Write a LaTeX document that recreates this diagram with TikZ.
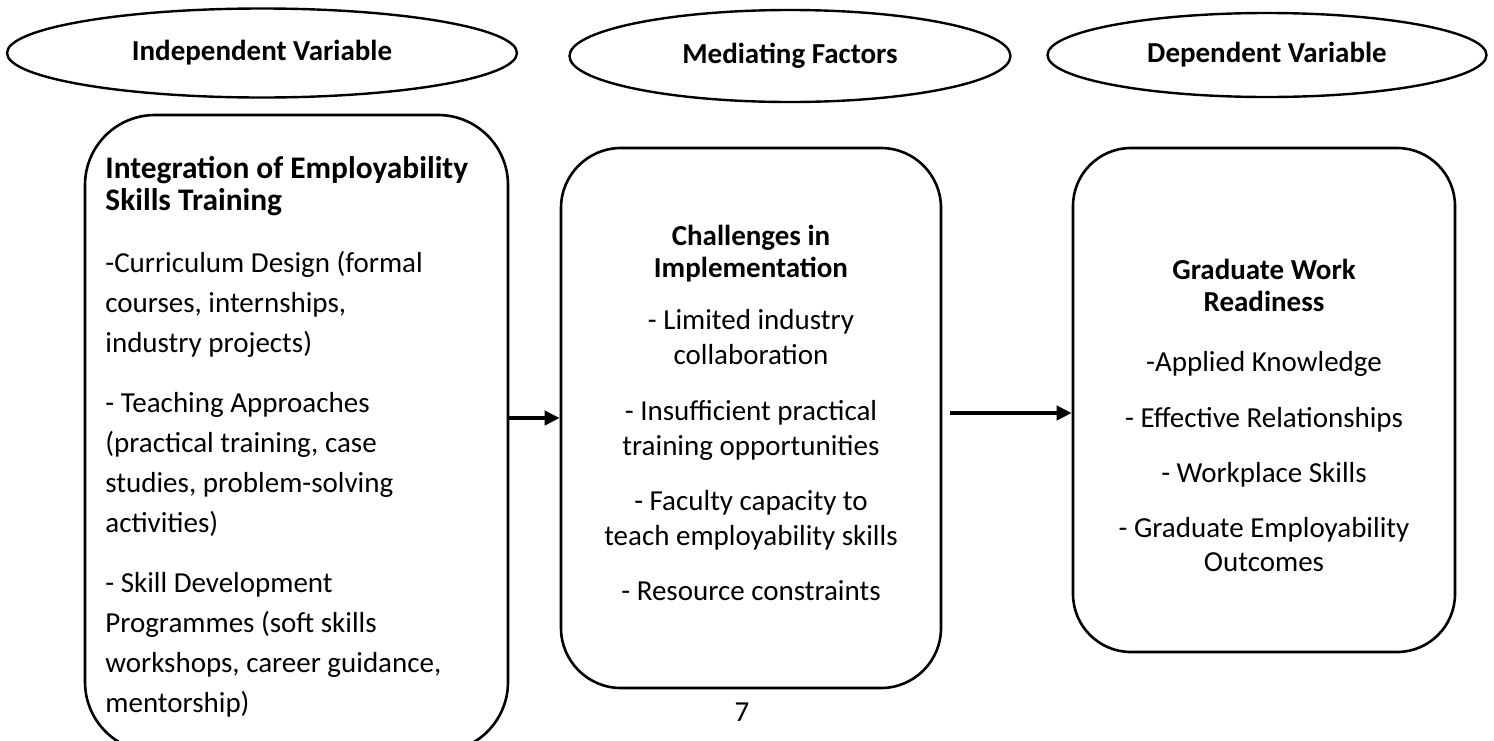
\documentclass[tikz,border=0pt]{standalone}
\usepackage{fontspec}
\setmainfont{Carlito}
\usetikzlibrary{shapes.geometric,arrows.meta}

\begin{document}
\begin{tikzpicture}[x=0.5pt,y=-0.5pt,
    etichetta/.style={draw, ellipse, line width=1.2pt, inner sep=0pt, font=\fontsize{14.5}{17}\selectfont\bfseries},
    riquadro/.style={draw, rectangle, line width=1.3pt, inner sep=0pt},
    testo/.style={inner sep=0pt},
    freccia/.style={-{Triangle[length=7.5pt,width=7pt]}, line width=2pt}]
    \useasboundingbox (0,0) rectangle (1494,740);
    \clip (0,0) rectangle (1494,740);

    % Ellissi delle variabili
    \node[etichetta, minimum width=255pt, minimum height=44.5pt] (iv) at (262,53) {Independent Variable};
    \node[etichetta, minimum width=220.5pt, minimum height=46pt] (mf) at (790,56) {Mediating Factors};
    \node[etichetta, minimum width=219.5pt, minimum height=42pt] (dv) at (1267,55) {Dependent Variable};

    % Riquadri arrotondati
    \node[riquadro, rounded corners=35pt, minimum width=211.5pt, minimum height=318.5pt] (ivbox) at (296.5,433.5) {};
    \node[riquadro, rounded corners=30pt, minimum width=190pt, minimum height=270pt] (mfbox) at (751,418) {};
    \node[riquadro, rounded corners=29pt, minimum width=191pt, minimum height=252pt] (dvbox) at (1264,400) {};

    % Testo dei riquadri
    \node[testo, anchor=north west, align=left, font=\fontsize{14.5}{20}\selectfont] (ivtxt) at (105,156) {%
        {\fontsize{15.7}{20}\selectfont\bfseries Integration of Employability}\\[-4pt]
        {\fontsize{15.7}{20}\selectfont\bfseries Skills Training}\\[11pt]
        -Curriculum Design (formal\\
        courses, internships,\\
        industry projects)\\[10pt]
        - Teaching Approaches\\
        (practical training, case\\
        studies, problem-solving\\
        activities)\\[10pt]
        - Skill Development\\
        Programmes (soft skills\\
        workshops, career guidance,\\
        mentorship)};
    \node[testo, anchor=north, align=center, font=\fontsize{14.5}{17.5}\selectfont] (mftxt) at (751,225) {%
        \textbf{Challenges in}\\[-1.5pt]
        \textbf{Implementation}\\[8.5pt]
        - Limited industry\\
        collaboration\\[10.5pt]
        - Insufficient practical\\
        training opportunities\\[10pt]
        - Faculty capacity to\\
        teach employability skills\\[10pt]
        - Resource constraints};
    \node[testo, anchor=north, align=center, font=\fontsize{14.5}{17}\selectfont] (dvtxt) at (1264,259) {%
        \textbf{Graduate Work}\\[-1pt]
        \textbf{Readiness}\\[13pt]
        -Applied Knowledge\\[11pt]
        - Effective Relationships\\[10.5pt]
        - Workplace Skills\\[10.5pt]
        - Graduate Employability\\
        Outcomes};

    % Frecce
    \draw[freccia] (ivbox.east |- mfbox.west) -- (mfbox.west);
    \draw[freccia, shorten <=4pt] ([yshift=2.5pt]mfbox.east) -- ([yshift=2.5pt]mfbox.east -| dvbox.west);

    % Numero di pagina
    \node[testo, font=\fontsize{14.5}{17}\selectfont] (pagina) at (742,712) {7};
\end{tikzpicture}
\end{document}
